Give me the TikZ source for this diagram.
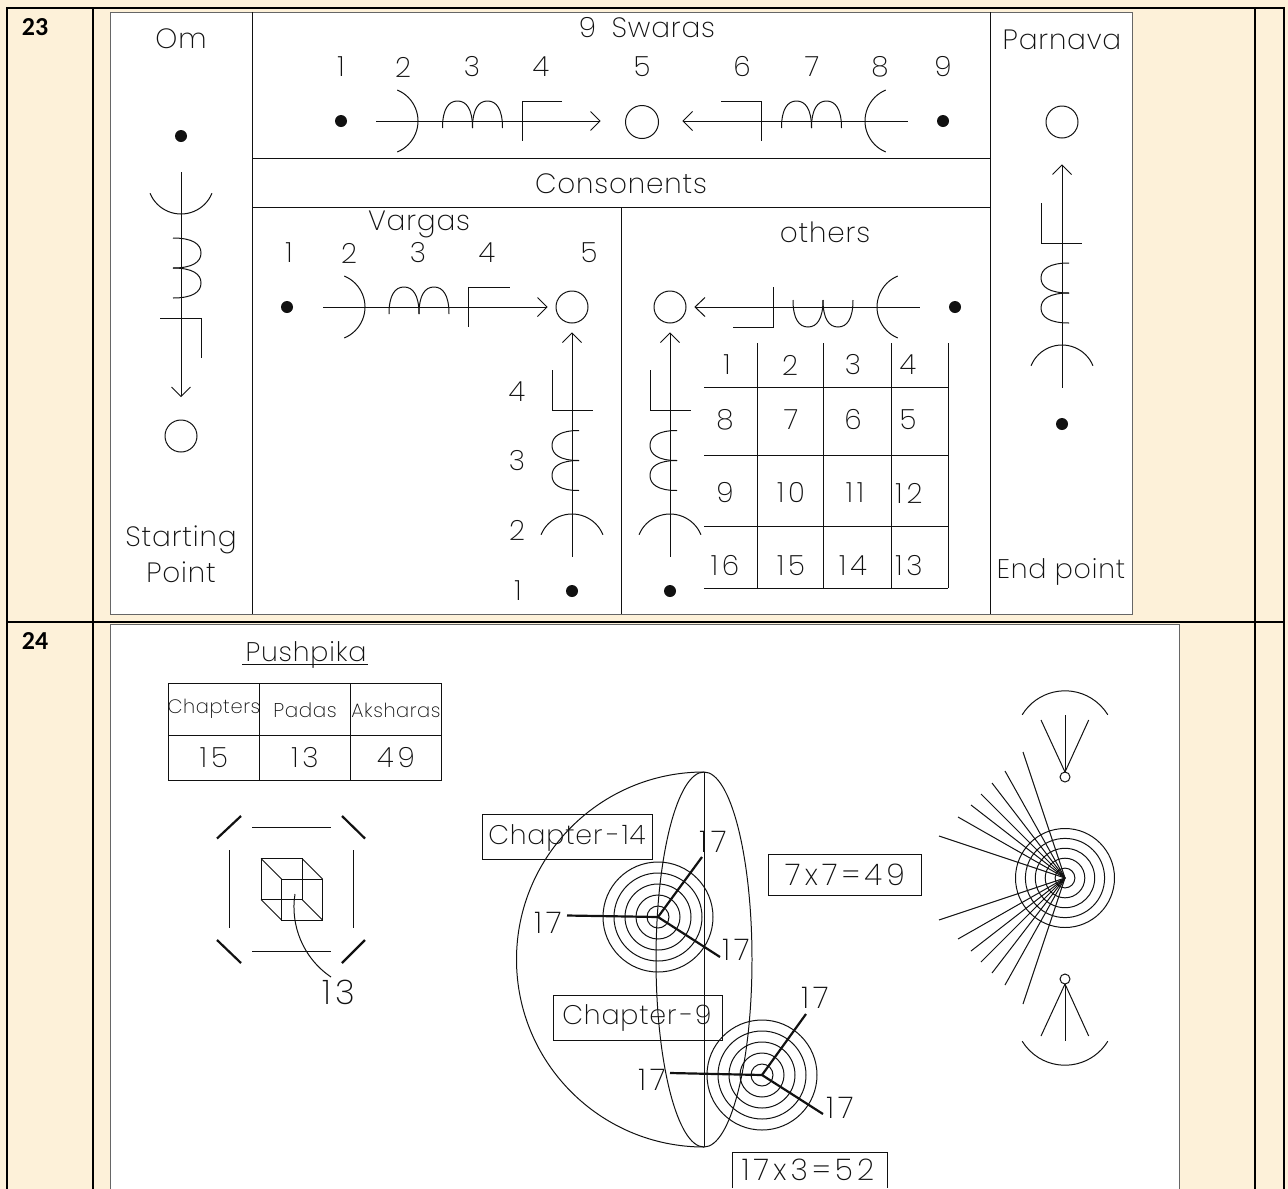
\documentclass[tikz,border=0pt]{standalone}
\usepackage{fontspec}
\newfontfamily\cad[LetterSpace=3]{Poppins ExtraLight}
\newfontfamily\cadn[LetterSpace=14]{Poppins ExtraLight}
\newfontfamily\rowfont{Carlito}
\newcounter{tn}
\definecolor{parch}{HTML}{FDF1D9}
\definecolor{panelgray}{HTML}{666666}
\definecolor{ink}{HTML}{111111}
\newcommand\T[4]{\stepcounter{tn}\node[lbl] (t\thetn) at (#1,#2) {\fontsize{#3}{#3}\selectfont #4};}
\newcommand\N[4]{\stepcounter{tn}\node[lbl] (t\thetn) at (#1,#2) {\cadn\fontsize{#3}{#3}\selectfont #4};}
% arc of a circle: centre, angles, radius
\newcommand\CA[5]{\draw[ln] (#1,#2) ++(#3:#5) arc[start angle=#3,end angle=#4,radius=#5];}
% two humps: base start, width, signed height (horizontal row)
\newcommand\HH[4]{\draw[ln] (#1,#2) .. controls ({#1},{#2+.7*#4}) and ({#1+.2*#3},{#2+#4}) .. ({#1+.5*#3},{#2+#4}) .. controls ({#1+.8*#3},{#2+#4}) and ({#1+#3},{#2+.7*#4}) .. ({#1+#3},{#2});}
\newcommand\VV[4]{\draw[ln] (#1,#2) .. controls ({#1+.7*#4},{#2}) and ({#1+#4},{#2+.2*#3}) .. ({#1+#4},{#2+.5*#3}) .. controls ({#1+#4},{#2+.8*#3}) and ({#1+.7*#4},{#2+#3}) .. ({#1},{#2+#3});}
\newcommand\Dot[2]{\fill[ink] (#1,#2) circle[radius=6];}
\newcommand\Ring[3]{\draw[ln] (#1,#2) circle[radius=#3];}
\newcommand\Rings[3]{\foreach \r in {1,...,5}{\draw[ln] (#1,#2) circle[radius={\r*#3}];}}
\tikzset{
  lbl/.style={inner sep=0pt,outer sep=0pt,text=ink,font=\cad},
  ln/.style={draw=ink,line width=1pt},
  thick line/.style={draw=ink,line width=2.2pt},
  frame/.style={draw=black,line width=1.6pt},
  panel/.style={fill=white,draw=panelgray,line width=1pt},
  boxed/.style={draw=ink,line width=1pt,fill=none}
}
\begin{document}
\begin{tikzpicture}[x=1bp,y=-1bp]
\useasboundingbox (0,0) rectangle (1288,1189);
\fill[parch] (0,0) rectangle (1288,1189);
% table frame
\draw[frame] (7,1189) -- (7,8) -- (1284,8) -- (1284,1189);
\draw[frame] (93,8) -- (93,1189);
\draw[frame] (1255,8) -- (1255,1189);
\draw[frame] (7,622) -- (1284,622);
\node[inner sep=0pt,font=\rowfont\bfseries\fontsize{26}{26}\selectfont] (r23) at (35,27) {23};
\node[inner sep=0pt,font=\rowfont\bfseries\fontsize{26}{26}\selectfont] (r24) at (35,641) {24};
% panels
\draw[panel] (110,12) rectangle (1132,614);
\fill[white] (110,624.5) rectangle (1179.5,1189);
\draw[panelgray,line width=1pt] (110,1189) -- (110,624.5) -- (1179.5,624.5) -- (1179.5,1189);
% ===== panel 23 grid
\draw[ln] (252,12) -- (252,614);
\draw[ln] (990.5,12) -- (990.5,614);
\draw[ln] (252,158) -- (990.5,158);
\draw[ln] (252,207) -- (990.5,207);
\draw[ln] (621,207) -- (621,614);
% Om column
\T{181}{39}{28}{Om}
\Dot{181}{136}
\draw[ln] (181,172) -- (181,396);
\draw[ln] (171.5,387) -- (181,396.5) -- (190.5,387);
\CA{181}{180.5}{22.5}{157.5}{33.5}
\VV{173}{238}{30}{28}
\VV{173}{268}{30}{28}
\draw[ln] (160,318) -- (201,318) -- (201,358);
\Ring{181}{436}{16}
\T{181}{540}{28}{Starting}
\T{181}{572}{28}{Point}
% Swaras
\T{647}{28}{28}{9\hspace{.55em}Swaras}
\foreach \x/\n in {341/1,403/2,472/3,541/4,642/5,742/6,812/7,880/8,943/9}{\T{\x}{67}{28}{\n}}
\Dot{341}{121}
\draw[ln] (376,121) -- (600,121);
\draw[ln] (590.5,111.5) -- (600,121) -- (590.5,130.5);
\CA{384.5}{121}{-67.5}{67.5}{33.5}
\HH{442.5}{128}{30}{-27}
\HH{472.5}{128}{30}{-27}
\draw[ln] (562,101) -- (522,101) -- (522,141);
\Ring{642}{122}{16.5}
\draw[ln] (683,121) -- (907.5,121);
\draw[ln] (692.5,111.5) -- (683,121) -- (692.5,130.5);
\draw[ln] (721,101) -- (761.5,101) -- (761.5,141);
\HH{781.5}{128}{30}{-27}
\HH{811.5}{128}{30}{-27}
\CA{898.5}{121}{112.5}{247.5}{33.5}
\Dot{943}{121}
\T{621}{184}{28}{Consonents}
% Vargas
\T{419}{224}{28}{Vargas}
\foreach \x/\n in {289/1,349/2,418/3,487/4,589/5}{\T{\x}{253}{28}{\n}}
\Dot{287}{307}
\draw[ln] (323,307) -- (547,307);
\draw[ln] (537.5,297.5) -- (547,307) -- (537.5,316.5);
\CA{331.5}{307}{-67.5}{67.5}{33.5}
\HH{389}{314}{30}{-27}
\HH{419}{314}{30}{-27}
\draw[ln] (509.5,287) -- (468.5,287) -- (468.5,327);
\Ring{572}{307}{16}
\draw[ln] (572,333) -- (572,557);
\draw[ln] (562.5,342.5) -- (572,333) -- (581.5,342.5);
\draw[ln] (552,370) -- (552,410) -- (592.5,410);
\VV{579}{430.5}{30}{-27}
\VV{579}{460.5}{30}{-27}
\CA{572}{547.5}{202.5}{337.5}{33.5}
\Dot{572}{591}
\T{517}{392}{28}{4}
\T{517}{461}{28}{3}
\T{517}{530}{28}{2}
\T{518}{591}{28}{1}
% others
\T{825}{232}{28}{others}
\Ring{670}{307}{16}
\draw[ln] (695,307) -- (920,307);
\draw[ln] (705,297.5) -- (695,307) -- (705,316.5);
\draw[ln] (773,287) -- (773,327) -- (733,327);
\HH{793}{300}{30}{27}
\HH{823}{300}{30}{27}
\CA{910.5}{307}{112.5}{247.5}{33.5}
\Dot{955}{307}
\draw[ln] (670,333) -- (670,557);
\draw[ln] (660.5,342.5) -- (670,333) -- (679.5,342.5);
\draw[ln] (650,370) -- (650,410) -- (691,410);
\VV{677}{430.5}{30}{-27}
\VV{677}{460.5}{30}{-27}
\CA{670}{547.5}{202.5}{337.5}{33.5}
\Dot{670}{591}
% 16 grid
\foreach \y in {387.5,455.5,526.5,588}{\draw[ln] (704,\y) -- (948,\y);}
\foreach \x in {757.5,823.5,891.5,948}{\draw[ln] (\x,343) -- (\x,588);}
\foreach \x/\n in {727/1,790/2,853/3,908/4}{\T{\x}{365}{28}{\n}}
\foreach \x/\n in {725/8,791/7,853/6,908/5}{\T{\x}{420}{28}{\n}}
\T{725}{493}{28}{9}
\foreach \x/\n in {791/10,855/11,909/12}{\N{\x}{493}{28}{\n}}
\foreach \x/\n in {725/16,791/15,853/14,909/13}{\N{\x}{566}{28}{\n}}
% Parnava
\T{1062}{40}{28}{Parnava}
\Ring{1062}{122}{16}
\draw[ln] (1062,165) -- (1062,388);
\draw[ln] (1052.5,174.5) -- (1062,165) -- (1071.5,174.5);
\draw[ln] (1041,203) -- (1041,243) -- (1082,243);
\VV{1069}{263}{30}{-28}
\VV{1069}{293}{30}{-28}
\CA{1062}{378.5}{202.5}{337.5}{33.5}
\Dot{1062}{424}
\T{1061}{572}{27}{End point}
% ===== panel 24
\T{306}{655}{27}{Pushpika}
\draw[ln] (242,664) -- (368,664);
\draw[ln] (168.5,683) rectangle (441,780.5);
\draw[ln] (259.5,683) -- (259.5,780.5);
\draw[ln] (350,683) -- (350,780.5);
\draw[ln] (168.5,735.5) -- (441,735.5);
\T{214}{709}{19.5}{Chapters}
\T{305}{710}{20}{Padas}
\T{396}{710}{19.5}{Aksharas}
\N{214}{758}{28}{15}
\N{305}{758}{28}{13}
\N{396}{758}{28}{49}
% octagon
\draw[thick line] (217,838.5) -- (241,816);
\draw[thick line] (342,816) -- (365,838.5);
\draw[thick line] (217,940) -- (241,963);
\draw[thick line] (342,963) -- (365,940);
\draw[ln] (252,827) -- (331,827);
\draw[ln] (252,951.5) -- (331,951.5);
\draw[ln] (229,850) -- (229,928);
\draw[ln] (353.5,850) -- (353.5,928);
% cube
\draw[ln] (261,858.5) rectangle (302,899.5);
\draw[ln] (281.5,879) rectangle (322.5,920);
\draw[ln] (261,858.5) -- (281.5,879);
\draw[ln] (302,858.5) -- (322.5,879);
\draw[ln] (261,899.5) -- (281.5,920);
\draw[ln] (302,899.5) -- (322.5,920);
\draw[ln] (295,894) .. controls (290,925) and (303,958) .. (331,977);
\N{339}{992}{34}{13}
% half disk
\draw[ln] (704,772) arc[start angle=270,end angle=90,radius=187.5];
\draw[ln] (704,772) -- (704,1147);
\draw[ln] (704,959.5) ellipse[x radius=48,y radius=187.5];
% rings 1
\Rings{658}{917}{11}
\draw[thick line] (702,857) -- (658,917);
\draw[thick line] (567,915.5) -- (658,917) -- (720,957);
\N{713}{842}{30}{17}
\N{548}{923}{30}{17}
\N{736}{950}{30}{17}
% rings 2
\Rings{762}{1075}{11}
\draw[thick line] (806,1014) -- (762,1075);
\draw[thick line] (670,1073) -- (762,1075) -- (823,1114);
\N{815}{998}{30}{17}
\N{652}{1080}{30}{17}
\N{840}{1108}{30}{17}
% boxes
\draw[boxed] (482.5,814) rectangle (652,859);
\T{567}{838}{27}{Chapter\hspace{.12em}−\hspace{.12em}14}
\draw[boxed] (553,995.5) rectangle (722.5,1040.5);
\T{637}{1018}{27}{Chapter\hspace{.1em}−\hspace{.1em}9}
\draw[boxed] (768,854) rectangle (921,895.5);
\N{845}{875}{30}{7x7=49}
\draw[boxed] (732,1188) -- (732,1152) -- (887,1152) -- (887,1188);
\N{808}{1170}{30}{17x3=52}
% fan
\foreach \r in {1,...,5}{\draw[ln] (1065,878) circle[radius={\r*9.9}];}
\foreach \x/\y in {1023/752,1005/771,992/783,981/794,971/805,958/817,939/836,939/920,958/939,971/951,981/962,992/973,1005/985,1023/1004}{\draw[ln] (1065,878) -- (\x,\y);}
% top and bottom fan symbols
\CA{1065}{741}{211.5}{328.5}{50.2}
\Ring{1065}{777}{5}
\draw[ln] (1065,772) -- (1065,715);
\draw[ln] (1065,772) -- (1041,720);
\draw[ln] (1065,772) -- (1088.7,720);
\CA{1065}{1015}{31.5}{148.5}{50.2}
\Ring{1065}{979}{5}
\draw[ln] (1065,984) -- (1065,1041);
\draw[ln] (1065,984) -- (1041,1036);
\draw[ln] (1065,984) -- (1088.7,1036);
\end{tikzpicture}
\end{document}
